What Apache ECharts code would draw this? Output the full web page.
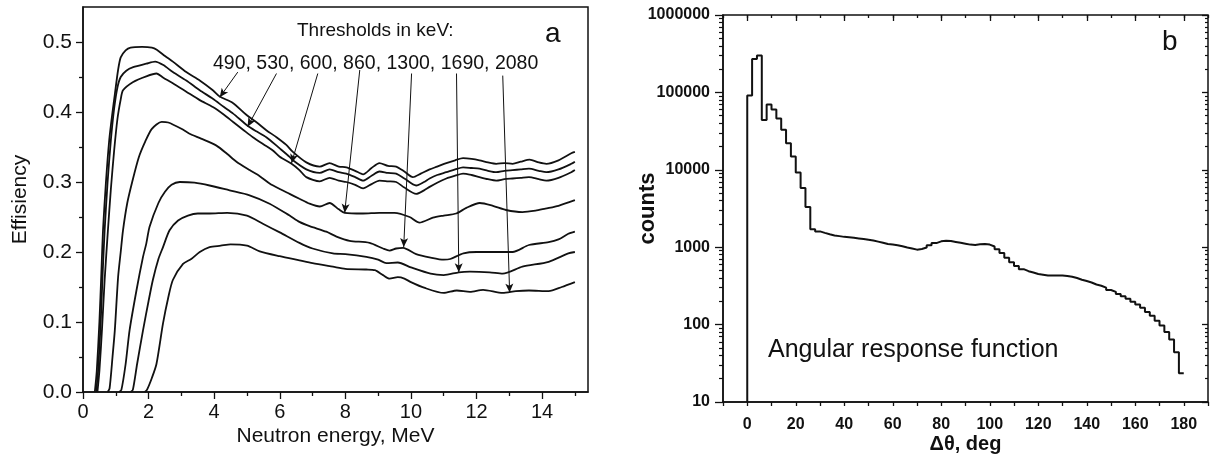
<!DOCTYPE html>
<html>
<head>
<meta charset="utf-8">
<script src="https://cdn.jsdelivr.net/npm/echarts@6/dist/echarts.min.js"></script>
<style>
  html, body { margin: 0; padding: 0; background: #fff; }
  #main { width: 1214px; height: 461px; }
</style>
</head>
<body>
<div id="main"></div>
<script>
// ---- panel a : efficiency vs neutron energy, one curve per threshold (keV) ----
var thresholds = ['490', '530', '600', '860', '1300', '1690', '2080'];

var thr490 = [[0.36,0],[0.42,0.03],[0.5,0.1],[0.56,0.17],[0.61,0.231],[0.7,0.3],[0.8,0.36],[0.9,0.4],[0.97,0.425],[1.07,0.46],[1.15,0.478],[1.3,0.488],[1.45,0.492],[1.8,0.493],[2.1,0.492],[2.25,0.489],[2.5,0.48],[2.74,0.472],[3.15,0.457],[3.56,0.445],[3.96,0.431],[4.17,0.422],[4.57,0.413],[4.98,0.396],[5.3,0.385],[5.59,0.374],[5.9,0.364],[6.2,0.353],[6.4,0.343],[6.81,0.328],[7.22,0.322],[7.52,0.327],[7.8,0.322],[8.03,0.321],[8.3,0.316],[8.54,0.311],[8.8,0.32],[9.04,0.327],[9.3,0.323],[9.55,0.322],[9.8,0.315],[10.06,0.307],[10.3,0.312],[10.57,0.318],[10.8,0.322],[11.08,0.327],[11.35,0.331],[11.59,0.334],[11.85,0.333],[12.09,0.331],[12.35,0.328],[12.6,0.326],[12.85,0.327],[13.1,0.326],[13.35,0.329],[13.62,0.332],[13.9,0.328],[14.13,0.326],[14.5,0.331],[14.89,0.341],[15,0.343]];
var thr530 = [[0.4,0],[0.46,0.03],[0.54,0.1],[0.6,0.17],[0.66,0.231],[0.75,0.3],[0.85,0.36],[0.95,0.405],[1.05,0.435],[1.15,0.45],[1.32,0.459],[1.53,0.464],[1.93,0.469],[2.2,0.472],[2.45,0.467],[2.74,0.457],[3.15,0.445],[3.56,0.431],[3.96,0.419],[4.3,0.407],[4.57,0.398],[5.03,0.38],[5.3,0.372],[5.59,0.364],[6.0,0.348],[6.3,0.336],[6.4,0.331],[6.81,0.318],[7.22,0.313],[7.52,0.318],[7.8,0.314],[8.03,0.312],[8.3,0.307],[8.54,0.302],[8.8,0.309],[9.04,0.315],[9.3,0.313],[9.55,0.312],[9.8,0.305],[10.16,0.295],[10.4,0.3],[10.57,0.305],[10.8,0.31],[11.08,0.314],[11.35,0.318],[11.59,0.321],[11.85,0.32],[12.09,0.319],[12.35,0.316],[12.6,0.314],[12.85,0.316],[13.1,0.317],[13.35,0.318],[13.6,0.319],[13.9,0.316],[14.13,0.314],[14.5,0.318],[14.89,0.326],[15,0.329]];
var thr600 = [[0.44,0],[0.5,0.03],[0.58,0.09],[0.66,0.16],[0.76,0.231],[0.85,0.29],[0.95,0.345],[1.05,0.39],[1.15,0.418],[1.22,0.431],[1.53,0.443],[1.93,0.451],[2.24,0.455],[2.45,0.449],[2.74,0.441],[3.15,0.429],[3.56,0.417],[3.96,0.407],[4.3,0.396],[4.57,0.386],[4.9,0.374],[5.18,0.364],[5.5,0.354],[5.79,0.345],[6.0,0.336],[6.36,0.326],[6.6,0.317],[6.81,0.307],[7.22,0.301],[7.52,0.306],[7.8,0.302],[8.03,0.3],[8.3,0.296],[8.54,0.291],[8.8,0.297],[9.04,0.302],[9.3,0.301],[9.55,0.3],[9.8,0.292],[10.16,0.283],[10.4,0.288],[10.57,0.293],[10.8,0.299],[11.08,0.305],[11.35,0.309],[11.59,0.312],[11.85,0.31],[12.09,0.307],[12.35,0.304],[12.6,0.302],[12.85,0.304],[13.1,0.305],[13.35,0.306],[13.6,0.307],[13.9,0.304],[14.13,0.302],[14.5,0.306],[14.89,0.314],[15,0.317]];
var thr860 = [[0.75,0],[0.81,0.005],[0.9,0.05],[0.97,0.088],[1.07,0.164],[1.15,0.2],[1.22,0.231],[1.35,0.27],[1.5,0.3],[1.7,0.335],[1.9,0.358],[2.1,0.376],[2.4,0.386],[2.6,0.385],[3.0,0.376],[3.25,0.369],[3.6,0.362],[4.07,0.352],[4.4,0.34],[4.68,0.329],[5.08,0.317],[5.4,0.308],[5.69,0.298],[6.0,0.29],[6.3,0.283],[6.6,0.276],[6.91,0.269],[7.22,0.265],[7.52,0.27],[7.8,0.261],[7.98,0.256],[8.54,0.255],[9.04,0.256],[9.5,0.256],[9.96,0.25],[10.26,0.242],[10.67,0.249],[11.0,0.252],[11.38,0.255],[11.69,0.263],[12.1,0.27],[12.5,0.266],[12.9,0.26],[13.4,0.257],[13.8,0.259],[14.1,0.262],[14.5,0.266],[15,0.274]];
var thr1300 = [[1.1,0],[1.17,0.003],[1.3,0.04],[1.42,0.088],[1.63,0.145],[1.83,0.193],[1.93,0.212],[2.03,0.236],[2.3,0.27],[2.5,0.286],[2.7,0.296],[2.95,0.3],[3.4,0.299],[3.86,0.295],[4.47,0.288],[5.08,0.281],[5.69,0.269],[6.3,0.252],[6.6,0.243],[6.91,0.237],[7.42,0.229],[7.73,0.222],[8.13,0.216],[8.74,0.213],[9.15,0.205],[9.35,0.202],[9.55,0.205],[9.76,0.206],[10.16,0.197],[10.6,0.192],[11.0,0.189],[11.2,0.19],[11.6,0.198],[12.0,0.2],[12.6,0.2],[13.1,0.2],[13.6,0.21],[14.2,0.214],[14.5,0.218],[14.8,0.226],[15,0.229]];
var thr1690 = [[1.45,0],[1.52,0.003],[1.65,0.04],[1.83,0.088],[2.0,0.13],[2.13,0.16],[2.3,0.19],[2.44,0.207],[2.64,0.231],[2.9,0.245],[3.2,0.252],[3.5,0.255],[3.86,0.255],[4.4,0.256],[5.0,0.252],[5.5,0.24],[6.0,0.228],[6.6,0.213],[7.0,0.205],[7.62,0.198],[8.0,0.197],[8.64,0.193],[9.0,0.189],[9.25,0.184],[9.6,0.185],[10.0,0.178],[10.6,0.169],[11.0,0.167],[11.46,0.171],[11.8,0.172],[12.4,0.171],[12.8,0.169],[13.4,0.179],[14.2,0.186],[14.8,0.198],[15,0.2]];
var thr2080 = [[1.88,0],[1.95,0.003],[2.1,0.02],[2.24,0.04],[2.44,0.098],[2.6,0.135],[2.74,0.16],[3.05,0.183],[3.3,0.19],[3.56,0.2],[3.86,0.207],[4.2,0.209],[4.5,0.211],[5.0,0.209],[5.39,0.201],[6.0,0.194],[6.6,0.188],[7.0,0.184],[7.62,0.179],[8.0,0.176],[8.64,0.175],[8.9,0.174],[9.15,0.167],[9.35,0.162],[9.6,0.164],[9.8,0.162],[10.0,0.157],[10.4,0.149],[11.0,0.1415],[11.4,0.145],[11.8,0.143],[12.2,0.146],[12.8,0.1415],[13.2,0.144],[13.6,0.145],[14.2,0.144],[14.6,0.15],[15,0.157]];

// arrows from the threshold labels down to their curves: [start, tip] in (MeV, eff)
var arrowStart = [[4.72,0.457],[5.9,0.455],[7.16,0.455],[8.44,0.46],[10.02,0.455],[11.39,0.455],[12.8,0.452]];
var arrowTip = [[4.17,0.421],[5.02,0.379],[6.36,0.327],[7.98,0.256],[9.78,0.207],[11.46,0.171],[13.01,0.142]];

var energyMajor = [0, 2, 4, 6, 8, 10, 12, 14];
var energyMinor = [1, 3, 5, 7, 9, 11, 13, 15];
var effMajor = [0, 0.1, 0.2, 0.3, 0.4, 0.5];
var effMinor = [0.05, 0.15, 0.25, 0.35, 0.45];

// ---- panel b : angular response histogram, 2 deg bins from 0 to 180 ----
var binWidth = 2;
var counts = [
  91000, 270000, 300000, 44000, 70000, 60000, 46000, 33000, 22000, 14800,
  9200, 5800, 3300, 1700, 1600, 1530, 1470, 1420, 1390, 1360,
  1340, 1320, 1300, 1280, 1250, 1220, 1180, 1140, 1100, 1080,
  1060, 1030, 990, 960, 930, 950, 990, 1060, 1130, 1190,
  1210, 1200, 1170, 1140, 1110, 1080, 1070, 1090, 1100, 1080,
  1020, 940, 840, 730, 640, 570, 520, 490, 470, 450,
  440, 430, 430, 430, 430, 425, 415, 400, 380, 365,
  350, 330, 318, 300, 280, 265, 248, 232, 215, 198,
  182, 165, 145, 130, 112, 97, 80, 64, 44, 23.5
];
var angleMajor = [0, 20, 40, 60, 80, 100, 120, 140, 160, 180];
var countDecades = [10, 100, 1000, 10000, 100000, 1000000];
// minor log ticks 2..9 of every decade, kept as exponents for an overlay value axis
var countMinorExp = [];
countDecades.slice(0, -1).forEach(function (d) {
  for (var k = 2; k <= 9; k++) countMinorExp.push(Math.log10(d * k));
});
var countDecadeExp = countDecades.map(function (d) { return Math.log10(d); });

var FONT = "'Liberation Sans', Arial, sans-serif";
var INK = '#111';

var histData = [[0, 10]];
counts.forEach(function (c, i) { histData.push([i * binWidth, c]); });
histData.push([counts.length * binWidth, counts[counts.length - 1]]);

var curves = [thr490, thr530, thr600, thr860, thr1300, thr1690, thr2080];

var series = curves.map(function (d, i) {
  return {
    name: thresholds[i], type: 'line', xAxisIndex: 0, yAxisIndex: 0,
    data: d, showSymbol: false, smooth: 0.25, silent: true,
    lineStyle: { color: INK, width: 1.8 }
  };
});

// arrows
series.push({
  type: 'line', xAxisIndex: 0, yAxisIndex: 0, data: [], silent: true,
  markLine: {
    silent: true, symbol: ['none', 'arrow'], symbolSize: [6, 9],
    label: { show: false },
    lineStyle: { color: INK, width: 1, type: 'solid' },
    data: arrowStart.map(function (s, i) {
      return [{ coord: s }, { coord: arrowTip[i] }];
    })
  }
});

series.push({
  type: 'line', xAxisIndex: 2, yAxisIndex: 2, data: histData, step: 'end',
  showSymbol: false, silent: true,
  lineStyle: { color: INK, width: 2 }
});

// axis that only draws extra ticks
function tickAxis(o, tick) {
  return Object.assign({
    type: 'value', splitLine: { show: false },
    axisLine: { show: false, onZero: false }, axisLabel: { show: false },
    axisTick: Object.assign({ show: true, lineStyle: { color: INK, width: 1.3 } }, tick)
  }, o);
}

var option = {
  animation: false,
  backgroundColor: '#fff',
  textStyle: { fontFamily: FONT },
  grid: [
    { left: 83, top: 7, width: 505, height: 385, show: true, borderColor: INK, borderWidth: 1.5 },
    { left: 723, top: 15, width: 485, height: 387, show: true, borderColor: INK, borderWidth: 1.5 }
  ],
  xAxis: [
    {
      type: 'value', gridIndex: 0, min: 0, max: 15.4, position: 'bottom',
      name: 'Neutron energy, MeV', nameLocation: 'middle', nameGap: 34, nameMoveOverlap: false,
      nameTextStyle: { fontSize: 21, color: INK, fontFamily: FONT },
      axisLine: { show: true, onZero: false, lineStyle: { color: INK, width: 1.5 } },
      axisTick: { show: true, length: 7, customValues: energyMajor, lineStyle: { color: INK, width: 1.3 } },
      axisLabel: { customValues: energyMajor, fontSize: 20, color: INK, margin: 10, fontFamily: FONT },
      splitLine: { show: false }
    },
    tickAxis({ gridIndex: 0, min: 0, max: 15.4, position: 'bottom' },
      { length: 4, customValues: energyMinor }),
    {
      type: 'value', gridIndex: 1, min: -10, max: 190, interval: 10, position: 'bottom',
      name: 'Δθ, deg', nameLocation: 'middle', nameGap: 32, nameMoveOverlap: false,
      nameTextStyle: { fontSize: 20, fontWeight: 'bold', color: INK, fontFamily: FONT },
      axisLine: { show: true, onZero: false, lineStyle: { color: INK, width: 1.5 } },
      axisTick: { show: true, length: 4, lineStyle: { color: INK, width: 1.3 } },
      axisLabel: {
        fontSize: 16, fontWeight: 'bold', color: INK, margin: 15, fontFamily: FONT,
        formatter: function (v) { return (v >= 0 && v <= 180 && v % 20 === 0) ? String(v) : ''; }
      },
      splitLine: { show: false }
    },
    tickAxis({ gridIndex: 1, min: -10, max: 190, position: 'top' },
      { inside: true, length: 6, customValues: angleMajor }),
    tickAxis({ gridIndex: 1, min: -10, max: 190, interval: 10, position: 'top' },
      { inside: true, length: 3 })
  ],
  yAxis: [
    {
      type: 'value', gridIndex: 0, min: 0, max: 0.55, position: 'left',
      name: 'Effisiency', nameLocation: 'middle', nameGap: 52, nameMoveOverlap: false,
      nameTextStyle: { fontSize: 21, color: INK, fontFamily: FONT },
      axisLine: { show: true, onZero: false, lineStyle: { color: INK, width: 1.5 } },
      axisTick: { show: true, length: 7, customValues: effMajor, lineStyle: { color: INK, width: 1.3 } },
      axisLabel: {
        customValues: effMajor, fontSize: 21, color: INK, margin: 11, fontFamily: FONT,
        formatter: function (v) { return v.toFixed(1); }
      },
      splitLine: { show: false }
    },
    tickAxis({ gridIndex: 0, min: 0, max: 0.55, position: 'left' },
      { length: 4, customValues: effMinor }),
    {
      type: 'log', gridIndex: 1, min: 10, max: 1000000, logBase: 10, position: 'left',
      name: 'counts', nameLocation: 'middle', nameGap: 64, nameMoveOverlap: false,
      nameTextStyle: { fontSize: 22, fontWeight: 'bold', color: INK, fontFamily: FONT },
      axisLine: { show: true, onZero: false, lineStyle: { color: INK, width: 1.5 } },
      axisTick: { show: true, length: 8, lineStyle: { color: INK, width: 1.3 } },
      axisLabel: {
        fontSize: 16, fontWeight: 'bold', color: INK, margin: 13, fontFamily: FONT,
        formatter: function (v) { return String(Math.round(v)); }
      },
      splitLine: { show: false }
    },
    tickAxis({ gridIndex: 1, min: 1, max: 6, position: 'left' },
      { length: 4, customValues: countMinorExp, lineStyle: { color: INK, width: 1.2 } }),
    tickAxis({ gridIndex: 1, min: 1, max: 6, position: 'right' },
      { inside: true, length: 6, customValues: countDecadeExp }),
    tickAxis({ gridIndex: 1, min: 1, max: 6, position: 'right' },
      { inside: true, length: 3, customValues: countMinorExp, lineStyle: { color: INK, width: 1.2 } })
  ],
  graphic: [
    { type: 'text', left: 297, top: 21, silent: true,
      style: { text: 'Thresholds in keV:', font: '19px ' + FONT, fill: INK } },
    { type: 'text', left: 213, top: 54, silent: true,
      style: { text: thresholds.join(', '), font: '19.5px ' + FONT, fill: INK } },
    { type: 'text', left: 545, top: 20, silent: true,
      style: { text: 'a', font: '28px ' + FONT, fill: INK } },
    { type: 'text', left: 1162, top: 28, silent: true,
      style: { text: 'b', font: '28px ' + FONT, fill: INK } },
    { type: 'text', left: 768, top: 338, silent: true,
      style: { text: 'Angular response function', font: '25px ' + FONT, fill: INK } }
  ],
  series: series
};

var chart = echarts.init(document.getElementById('main'), null, { renderer: 'canvas' });
chart.setOption(option);
</script>
</body>
</html>
